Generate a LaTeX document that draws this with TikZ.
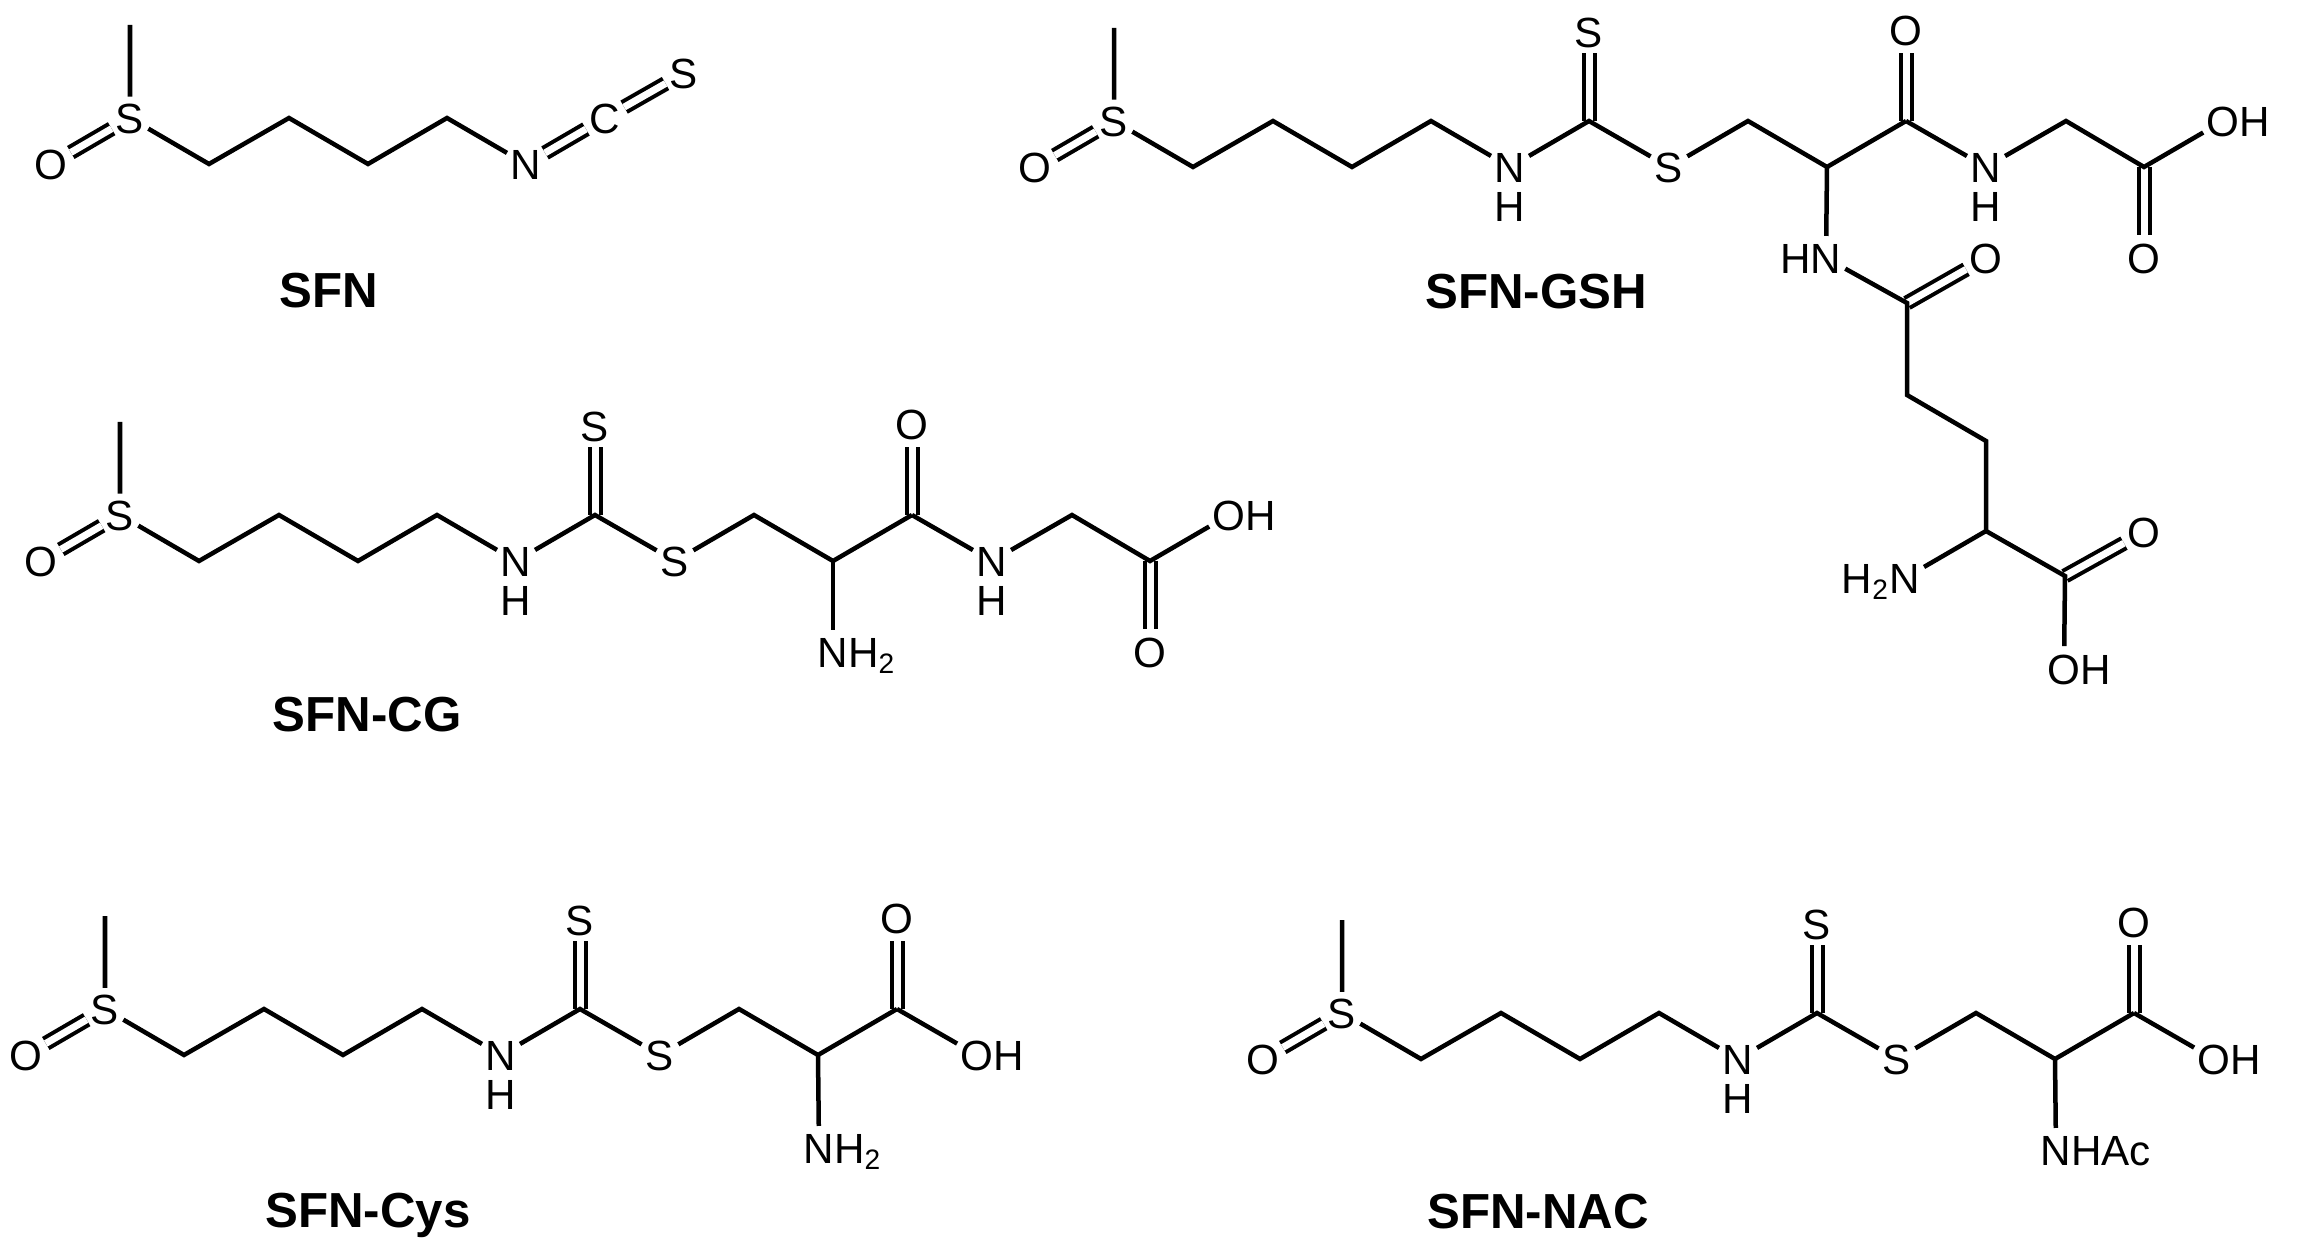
\documentclass[tikz,border=0pt]{standalone}
\usepackage{fontspec}
\setmainfont{Liberation Sans}
\tikzset{
    atom/.style={circle, inner sep=0pt, text height=0.3cm, text depth=0pt, font=\fontsize{12}{14}\selectfont},
    bond/.style={line width=0.045cm},
    dbond/.style={line width=0.04cm, double, double distance=0.07cm},
    molname/.style={inner sep=0pt, text height=0.33cm, text depth=0pt, font=\bfseries\fontsize{14}{16}\selectfont}
}
% methylsulfinyl butyl part
\newcommand{\sfnhead}{
    \foreach \n/\x/\y in {me/0/-93,c1/79/46,c2/159/0,c3/238/46,c4/317/0}{\coordinate (\n) at (\x,\y);}
    \node[atom] (s) at (0,0) {S};
    \node[atom] (o) at (-79,46) {O};
    \node[atom] (n) at (396,46) {N};
    \draw[dbond] (s) -- (o);
    \draw[bond] (me) -- (s) -- (c1) -- (c2) -- (c3) -- (c4) -- (n);
}
% dithiocarbamate up to the carbonyl
\newcommand{\dtcpart}{
    \foreach \n/\x/\y in {cs/475/0,c6/634/0,c7/713/46,c8/792/0}{\coordinate (\n) at (\x,\y);}
    \node[atom] (nh) at (396,85) {H};
    \node[atom] (st) at (475,-89) {S};
    \node[atom] (sb) at (555,46) {S};
    \node[atom] (ot) at (792,-91) {O};
    \draw[dbond] (cs) -- (st);
    \draw[dbond] (c8) -- (ot);
    \draw[bond] (n) -- (cs) -- (sb) -- (c6) -- (c7) -- (c8);
}
% glycine end
\newcommand{\glypart}{
    \foreach \n/\x/\y in {c11/952/0,c12/1030/46}{\coordinate (\n) at (\x,\y);}
    \node[atom] (ng) at (872,46) {N};
    \node[atom] (ngh) at (872,85) {H};
    \node[atom] (og) at (1030,137) {O};
    \node[atom] (ohg) at (1109,0) {O\rlap{H}};
    \draw[dbond] (c12) -- (og);
    \draw[bond] (c8) -- (ng) -- (c11) -- (c12) -- (ohg);
}
\begin{document}
\begin{tikzpicture}[x=0.01cm, y=-0.01cm]
    \useasboundingbox (0,0) rectangle (2302,1249);

    % SFN
    \begin{scope}[shift={(130,118)}, name prefix=sfn-]
        \sfnhead
        \node[atom] (ci) at (475,0) {C};
        \node[atom] (si) at (554,-45) {S};
        \draw[dbond] (n) -- (ci);
        \draw[dbond] (ci) -- (si);
    \end{scope}
    \node[molname] (sfnname) at (329,291) {SFN};

    % SFN-GSH
    \begin{scope}[shift={(1114,121)}, name prefix=gsh-]
        \sfnhead
        \dtcpart
        \glypart
        \foreach \n/\x/\y in {c13/793/182,c14/793/274,c15/872/320,c16/872/410,c17/951/455}{\coordinate (\n) at (\x,\y);}
        \node[atom] (hn) at (712,137) {\llap{H}N};
        \node[atom] (o13) at (872,137) {O};
        \node[atom] (h2n) at (791,457) {\llap{H\textsubscript{2}}N};
        \node[atom] (o17) at (1030,411) {O};
        \node[atom] (oh17) at (950,548) {O\rlap{H}};
        \draw[dbond] (c13) -- (o13);
        \draw[dbond] (c17) -- (o17);
        \draw[bond] (c7) -- (hn) -- (c13) -- (c14) -- (c15) -- (c16) -- (c17) -- (oh17);
        \draw[bond] (c16) -- (h2n);
    \end{scope}
    \node[molname] (gshname) at (1536,292) {SFN-GSH};

    % SFN-CG
    \begin{scope}[shift={(120,515)}, name prefix=cg-]
        \sfnhead
        \dtcpart
        \glypart
        \node[atom] (nh2) at (713,137) {N\rlap{H\textsubscript{2}}};
        \draw[bond] (c7) -- (nh2);
    \end{scope}
    \node[molname] (cgname) at (367,715) {SFN-CG};

    % SFN-Cys
    \begin{scope}[shift={(105,1009)}, name prefix=cys-]
        \sfnhead
        \dtcpart
        \node[atom] (oh) at (872,46) {O\rlap{H}};
        \node[atom] (nh2) at (714,139) {N\rlap{H\textsubscript{2}}};
        \draw[bond] (c8) -- (oh);
        \draw[bond] (c7) -- (nh2);
    \end{scope}
    \node[molname] (cysname) at (368,1211) {SFN-Cys};

    % SFN-NAC
    \begin{scope}[shift={(1342,1013)}, name prefix=nac-]
        \sfnhead
        \dtcpart
        \node[atom] (oh) at (872,46) {O\rlap{H}};
        \node[atom] (nhac) at (714,137) {N\rlap{HAc}};
        \draw[bond] (c8) -- (oh);
        \draw[bond] (c7) -- (nhac);
    \end{scope}
    \node[molname] (nacname) at (1538,1212) {SFN-NAC};
\end{tikzpicture}
\end{document}
